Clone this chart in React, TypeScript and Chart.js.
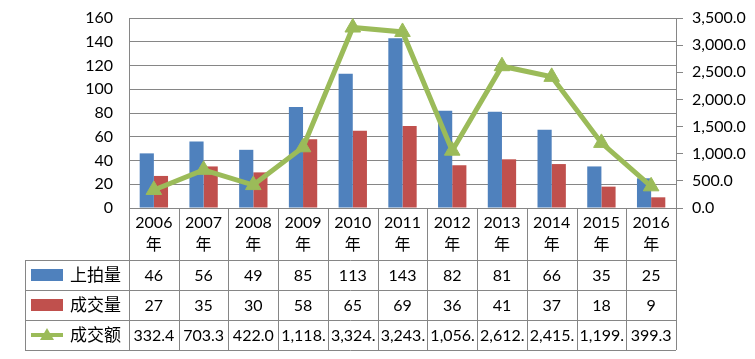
import React, { useEffect, useRef } from "react";
import { Chart, registerables } from "chart.js";

Chart.register(...registerables);

const categories = ["2006", "2007", "2008", "2009", "2010", "2011", "2012", "2013", "2014", "2015", "2016"];
const yearSuffix = "年";
const listedCount = [46, 56, 49, 85, 113, 143, 82, 81, 66, 35, 25];
const dealCount = [27, 35, 30, 58, 65, 69, 36, 41, 37, 18, 9];
const dealAmount = [332.4, 703.3, 422.0, 1118.5, 3324.6, 3243.1, 1056.2, 2612.3, 2415.7, 1199.4, 399.3];
const seriesNames = ["上拍量", "成交量", "成交额"];
const leftTicks = { min: 0, max: 160, step: 20 };
const rightTicks = { min: 0, max: 3500, step: 500 };

const BLUE = "#4F81BD";
const RED = "#C0504D";
const GREEN = "#9BBB59";
const GRID = "#868686";
const FONT = 'Lato, "Noto Sans CJK SC", sans-serif';

const fmt1 = (v: number) =>
  v.toLocaleString("en-US", { minimumFractionDigits: 1, maximumFractionDigits: 1 });

const tablePlugin = {
  id: "dataTable",
  afterDraw(chart: any) {
    const ctx = chart.ctx as CanvasRenderingContext2D;
    const area = chart.chartArea;
    const xs = chart.scales.x;
    const n = categories.length;
    const cw = (area.right - area.left) / n;
    const top = area.bottom;
    const headerH = 52;
    const rowH = 30;
    const tableLeft = 25;
    const rowsTop = top + headerH;
    const bottom = rowsTop + rowH * 3;
    ctx.save();
    ctx.strokeStyle = GRID;
    ctx.lineWidth = 1;
    ctx.beginPath();
    for (let i = 0; i <= n; i++) {
      const x = Math.round(area.left + i * cw) + 0.5;
      ctx.moveTo(x, top);
      ctx.lineTo(x, bottom);
    }
    ctx.moveTo(tableLeft + 0.5, rowsTop);
    ctx.lineTo(tableLeft + 0.5, bottom);
    for (let r = 0; r <= 3; r++) {
      const y = Math.round(rowsTop + r * rowH) + 0.5;
      ctx.moveTo(tableLeft, y);
      ctx.lineTo(area.right, y);
    }
    ctx.stroke();

    ctx.fillStyle = "#000";
    ctx.font = `16px ${FONT}`;
    ctx.textAlign = "center";
    ctx.textBaseline = "middle";
    categories.forEach((c, i) => {
      const cx = xs.getPixelForValue(i);
      ctx.fillText(c, cx, top + 15);
      ctx.fillText(yearSuffix, cx, top + 37);
    });

    const rows = [listedCount.map(String), dealCount.map(String), dealAmount.map(fmt1)];
    rows.forEach((vals, r) => {
      const cy = rowsTop + r * rowH + rowH / 2 + 1;
      vals.forEach((s, i) => {
        const cx = xs.getPixelForValue(i);
        const avail = cw - 5;
        if (ctx.measureText(s).width <= avail) {
          ctx.textAlign = "center";
          ctx.fillText(s, cx, cy);
        } else {
          let t = s;
          while (t.length > 1 && ctx.measureText(t).width > avail) t = t.slice(0, -1);
          ctx.textAlign = "left";
          ctx.fillText(t, area.left + i * cw + 3, cy);
        }
      });
    });

    // legend keys
    ctx.textAlign = "left";
    ctx.font = `17px ${FONT}`;
    seriesNames.forEach((name, r) => {
      const cy = rowsTop + r * rowH + rowH / 2;
      if (r < 2) {
        ctx.fillStyle = r === 0 ? BLUE : RED;
        ctx.fillRect(31, cy - 6, 32, 12);
      } else {
        ctx.strokeStyle = GREEN;
        ctx.lineWidth = 4;
        ctx.beginPath();
        ctx.moveTo(31, cy);
        ctx.lineTo(63, cy);
        ctx.stroke();
        ctx.fillStyle = GREEN;
        ctx.beginPath();
        ctx.moveTo(47, cy - 7);
        ctx.lineTo(54, cy + 5);
        ctx.lineTo(40, cy + 5);
        ctx.closePath();
        ctx.fill();
      }
      ctx.fillStyle = "#000";
      ctx.fillText(name, 70, cy + 1);
    });
    ctx.restore();
  },
};

export default function App() {
  const ref = useRef<HTMLCanvasElement>(null);
  useEffect(() => {
    const chart = new Chart(ref.current!, {
      type: "bar",
      data: {
        labels: categories,
        datasets: [
          {
            type: "bar",
            label: seriesNames[0],
            data: listedCount,
            backgroundColor: BLUE,
            yAxisID: "y",
            order: 2,
            categoryPercentage: 0.57,
            barPercentage: 1,
          } as any,
          {
            type: "bar",
            label: seriesNames[1],
            data: dealCount,
            backgroundColor: RED,
            yAxisID: "y",
            order: 3,
            categoryPercentage: 0.57,
            barPercentage: 1,
          },
          {
            type: "line",
            label: seriesNames[2],
            data: dealAmount,
            borderColor: GREEN,
            backgroundColor: GREEN,
            borderWidth: 5,
            pointStyle: "triangle",
            pointRadius: 9,
            pointBorderWidth: 1,
            yAxisID: "y1",
            order: 1,
            tension: 0,
          },
        ],
      },
      options: {
        responsive: false,
        animation: false,
        layout: { padding: { top: 18, left: 0, right: 0, bottom: 0 } },
        plugins: { legend: { display: false }, tooltip: { enabled: false } },
        scales: {
          x: {
            ticks: { display: false },
            grid: { display: false },
            border: { display: false },
            afterFit: (s: any) => {
              s.height = 151;
            },
          },
          y: {
            position: "left",
            min: leftTicks.min,
            max: leftTicks.max,
            ticks: {
              stepSize: leftTicks.step,
              autoSkip: false,
              color: "#000",
              font: { family: FONT, size: 16 },
              padding: 0,
            },
            grid: { color: GRID, drawTicks: true, tickLength: 16, tickColor: "rgba(0,0,0,0)" },
            border: { display: true, color: GRID },
            afterFit: (s: any) => {
              s.width = 129;
            },
          },
          y1: {
            position: "right",
            min: rightTicks.min,
            max: rightTicks.max,
            ticks: {
              stepSize: rightTicks.step,
              autoSkip: false,
              color: "#000",
              font: { family: FONT, size: 16 },
              padding: 0,
              callback: (v: any) => fmt1(Number(v)),
            },
            grid: {
              drawOnChartArea: false,
              drawTicks: true,
              tickLength: 16,
              tickBorderDash: [6, 40],
              color: GRID,
            },
            border: { display: true, color: GRID },
            afterFit: (s: any) => {
              s.width = 79;
            },
          },
        },
      },
      plugins: [tablePlugin],
    });
    return () => chart.destroy();
  }, []);
  return (
    <div style={{ position: "fixed", left: 0, top: 0, width: 755, height: 359, background: "#fff" }}>
      <canvas ref={ref} width={755} height={359} />
    </div>
  );
}
